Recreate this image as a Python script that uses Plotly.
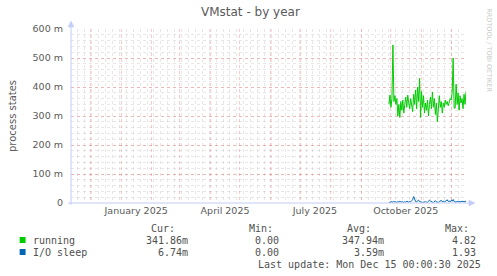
import datetime as dt
import plotly.graph_objects as go

# ---------------- data ----------------
start_date = dt.date(2025, 9, 29)
running_m = [340, 372, 330, 360, 545, 350, 370, 340, 360, 300, 340,
             295, 350, 320, 355, 310, 340, 365, 330, 372, 345,
             325, 360, 335, 315, 375, 340, 390, 325, 400, 350,
             430, 295, 385, 330, 370, 310, 345, 320, 355, 300,
             340, 365, 325, 383, 330, 360, 305, 345, 280, 320,
             370, 330, 350, 310, 345, 330, 355, 340, 350, 335,
             345, 360, 355, 380, 500, 327, 327, 410, 340, 380,
             320, 370, 345, 360, 325, 375, 340, 385]
io_sleep_m = [0, 4, 3, 5, 2, 6, 3, 4, 2, 5,
              3, 6, 4, 3, 5, 2, 4, 3, 6, 4,
              3, 5, 4, 8, 12, 22, 9, 5, 4, 6,
              10, 5, 3, 4, 2, 3, 5, 4, 3, 2,
              6, 10, 7, 4, 3, 2, 5, 8, 4, 3,
              2, 5, 6, 9, 4, 7, 3, 6, 8, 11,
              5, 7, 4, 9, 6, 12, 5, 4, 3, 6,
              4, 5, 3, 4, 6, 5, 3, 4, 7]
dates = [start_date + dt.timedelta(days=i) for i in range(len(running_m))]

series_names = ["running", "I/O sleep"]
series_colors = ["#00CC00", "#0066B3"]
legend_cur = ["341.86m", "6.74m"]
legend_min = ["0.00", "0.00"]
legend_avg = ["347.94m", "3.59m"]
legend_max = ["4.82", "1.93"]

y_tick_vals = [0, 100, 200, 300, 400, 500, 600]
y_tick_text = ["0", "100 m", "200 m", "300 m", "400 m", "500 m", "600 m"]
x_label_vals = ["2025-01-16", "2025-04-16", "2025-07-16", "2025-10-16"]
x_label_text = ["January 2025", "April 2025", "July 2025", "October 2025"]
month_starts = [f"{y}-{m:02d}-01" for y, m in
                [(2024, 12)] + [(2025, k) for k in range(1, 13)]]
x_range = ["2024-11-11", "2025-12-16"]

# ---------------- layout geometry ----------------
FW, FH = 497, 276
L, T, W, H = 66, 29, 400, 174


def px(X):
    return (X - L) / W


def py(Y):
    return (T + H - Y) / H


FONT = "DejaVu Sans"
MONO = "DejaVu Sans Mono"
TXT = "#5a5a5a"
MAJ = "rgba(255,60,60,0.28)"
MIN = "rgba(170,170,170,0.28)"
AXC = "#C4CCF8"

fig = go.Figure()
fig.add_trace(go.Scatter(x=dates, y=running_m, mode="lines",
                         line=dict(color=series_colors[0], width=1),
                         name=series_names[0], showlegend=False))
fig.add_trace(go.Scatter(x=dates, y=io_sleep_m, mode="lines",
                         line=dict(color=series_colors[1], width=1),
                         name=series_names[1], showlegend=False))
# invisible trace to carry the label axis
fig.add_trace(go.Scatter(x=[x_range[0]], y=[None], xaxis="x2",
                         showlegend=False, hoverinfo="skip"))

fig.update_layout(
    width=FW, height=FH,
    margin=dict(l=L, r=FW - L - W, t=T, b=FH - T - H, pad=0),
    paper_bgcolor="white", plot_bgcolor="white",
    font=dict(family=FONT, size=9.5, color=TXT),
    xaxis=dict(type="date", range=x_range, tickvals=month_starts,
               showticklabels=False, ticks="",
               showgrid=True, gridcolor=MAJ, griddash="dot", gridwidth=1,
               minor=dict(dtick=7 * 86400000, tick0="2024-11-11",
                          showgrid=True, gridcolor=MIN, griddash="dot",
                          gridwidth=1),
               zeroline=False, showline=False),
    xaxis2=dict(type="date", overlaying="x", matches="x", anchor="y",
                side="bottom", range=x_range, tickvals=x_label_vals,
                ticktext=x_label_text, showgrid=False, ticks="",
                tickfont=dict(family=FONT, size=9.5, color=TXT),
                zeroline=False, showline=False),
    yaxis=dict(range=[0, 600], tickvals=y_tick_vals, ticktext=y_tick_text,
               ticks="", ticklabelstandoff=7,
               tickfont=dict(family=FONT, size=9.5, color=TXT),
               showgrid=True, gridcolor=MAJ, griddash="dot", gridwidth=1,
               minor=dict(dtick=20, showgrid=True, gridcolor=MIN,
                          griddash="dot", gridwidth=1),
               zeroline=False, showline=False,
               title=dict(text="process states", standoff=14,
                          font=dict(family=FONT, size=10, color=TXT))),
    showlegend=False,
)

shapes = []
# axis lines
shapes.append(dict(type="line", xref="paper", yref="paper",
                   x0=px(L), x1=px(L), y0=py(T + H + 2), y1=py(T - 4),
                   line=dict(color=AXC, width=1)))
shapes.append(dict(type="line", xref="paper", yref="paper",
                   x0=px(L - 3), x1=px(L + W + 5), y0=py(T + H), y1=py(T + H),
                   line=dict(color=AXC, width=1)))
# arrows
shapes.append(dict(type="path", xref="paper", yref="paper",
                   path=f"M {px(L-3)} {py(T-2)} L {px(L+3)} {py(T-2)} L {px(L)} {py(T-8)} Z",
                   fillcolor=AXC, line=dict(color=AXC, width=0.5)))
shapes.append(dict(type="path", xref="paper", yref="paper",
                   path=f"M {px(L+W+3)} {py(T+H-3)} L {px(L+W+3)} {py(T+H+3)} L {px(L+W+9)} {py(T+H)} Z",
                   fillcolor=AXC, line=dict(color=AXC, width=0.5)))
# legend squares
for i, c in enumerate(series_colors):
    yc = 240 + 12 * i
    shapes.append(dict(type="rect", xref="paper", yref="paper",
                       x0=px(14), x1=px(20), y0=py(yc + 3), y1=py(yc - 3),
                       fillcolor=c, line=dict(width=0)))
fig.update_layout(shapes=shapes)

ann = []
ann.append(dict(text="VMstat - by year", x=px(248), y=py(12), xref="paper",
                yref="paper", showarrow=False, xanchor="center",
                yanchor="middle", font=dict(family=FONT, size=12, color=TXT)))
ann.append(dict(text="RRDTOOL / TOBI OETIKER", x=px(489), y=py(50),
                xref="paper", yref="paper", showarrow=False, textangle=90,
                xanchor="center", yanchor="middle",
                font=dict(family=FONT, size=6.5, color="#c8c8c8")))


def cell(text, xr, yc, anchor="right"):
    ann.append(dict(text=text, x=px(xr), y=py(yc), xref="paper", yref="paper",
                    showarrow=False, xanchor=anchor, yanchor="middle",
                    borderpad=0,
                    font=dict(family=MONO, size=10, color="#505050")))


for t, xr in zip(["Cur:", "Min:", "Avg:", "Max:"], [172, 272, 371, 470]):
    cell(t, xr, 228)
for i, name in enumerate(series_names):
    yc = 240 + 12 * i
    cell(name, 27, yc, anchor="left")
    cell(legend_cur[i], 185, yc)
    cell(legend_min[i], 278, yc)
    cell(legend_avg[i], 384, yc)
    cell(legend_max[i], 477, yc)
cell("Last update: Mon Dec 15 00:00:30 2025", 482, 264)
fig.update_layout(annotations=ann)

fig.write_html("out.html")
